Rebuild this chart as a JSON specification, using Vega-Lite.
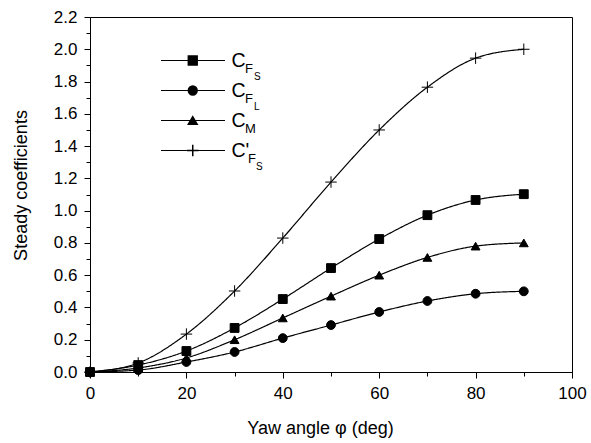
{
  "$schema": "https://vega.github.io/schema/vega-lite/v6.json",
  "width": 482,
  "height": 355,
  "autosize": {"type": "none"},
  "padding": {"left": 90, "top": 17, "right": 19, "bottom": 71},
  "background": "white",
  "config": {
    "view": {"stroke": "black", "strokeWidth": 1},
    "font": "Liberation Sans",
    "axis": {"labelFont": "Liberation Sans", "titleFont": "Liberation Sans", "grid": false, "tickColor": "black", "domainColor": "black", "labelColor": "black", "titleColor": "black", "tickWidth": 1, "domainWidth": 1, "labelFlush": false},
    "legend": {"labelFont": "Liberation Sans", "labelColor": "black"}
  },
  "data": {
    "values": [
      {"angle": 0, "value": 0, "series": "CFS", "order": 1},
      {"angle": 10, "value": 0.043, "series": "CFS", "order": 1},
      {"angle": 20, "value": 0.13, "series": "CFS", "order": 1},
      {"angle": 30, "value": 0.273, "series": "CFS", "order": 1},
      {"angle": 40, "value": 0.452, "series": "CFS", "order": 1},
      {"angle": 50, "value": 0.644, "series": "CFS", "order": 1},
      {"angle": 60, "value": 0.824, "series": "CFS", "order": 1},
      {"angle": 70, "value": 0.972, "series": "CFS", "order": 1},
      {"angle": 80, "value": 1.066, "series": "CFS", "order": 1},
      {"angle": 90, "value": 1.102, "series": "CFS", "order": 1},
      {"angle": 0, "value": 0, "series": "CFL", "order": 2},
      {"angle": 10, "value": 0.012, "series": "CFL", "order": 2},
      {"angle": 20, "value": 0.062, "series": "CFL", "order": 2},
      {"angle": 30, "value": 0.124, "series": "CFL", "order": 2},
      {"angle": 40, "value": 0.21, "series": "CFL", "order": 2},
      {"angle": 50, "value": 0.291, "series": "CFL", "order": 2},
      {"angle": 60, "value": 0.372, "series": "CFL", "order": 2},
      {"angle": 70, "value": 0.44, "series": "CFL", "order": 2},
      {"angle": 80, "value": 0.485, "series": "CFL", "order": 2},
      {"angle": 90, "value": 0.5, "series": "CFL", "order": 2},
      {"angle": 0, "value": 0, "series": "CM", "order": 3},
      {"angle": 10, "value": 0.025, "series": "CM", "order": 3},
      {"angle": 20, "value": 0.087, "series": "CM", "order": 3},
      {"angle": 30, "value": 0.2, "series": "CM", "order": 3},
      {"angle": 40, "value": 0.335, "series": "CM", "order": 3},
      {"angle": 50, "value": 0.47, "series": "CM", "order": 3},
      {"angle": 60, "value": 0.6, "series": "CM", "order": 3},
      {"angle": 70, "value": 0.71, "series": "CM", "order": 3},
      {"angle": 80, "value": 0.78, "series": "CM", "order": 3},
      {"angle": 90, "value": 0.8, "series": "CM", "order": 3},
      {"angle": 0, "value": 0, "series": "C'FS", "order": 4},
      {"angle": 10, "value": 0.056, "series": "C'FS", "order": 4},
      {"angle": 20, "value": 0.235, "series": "C'FS", "order": 4},
      {"angle": 30, "value": 0.502, "series": "C'FS", "order": 4},
      {"angle": 40, "value": 0.83, "series": "C'FS", "order": 4},
      {"angle": 50, "value": 1.177, "series": "C'FS", "order": 4},
      {"angle": 60, "value": 1.5, "series": "C'FS", "order": 4},
      {"angle": 70, "value": 1.765, "series": "C'FS", "order": 4},
      {"angle": 80, "value": 1.945, "series": "C'FS", "order": 4},
      {"angle": 90, "value": 2.0, "series": "C'FS", "order": 4}
    ]
  },
  "layer": [
    {
      "mark": {"type": "line", "interpolate": "monotone", "strokeWidth": 1.2},
      "encoding": {
        "x": {
          "field": "angle", "type": "quantitative",
          "scale": {"domain": [0, 100], "nice": false},
          "axis": {"orient": "bottom", "values": [0, 20, 40, 60, 80, 100], "tickSize": 6, "labelPadding": 7.5, "labelFontSize": 17, "labelFlush": false, "title": "Yaw angle φ (deg)", "titleFontSize": 18, "titleFontWeight": "normal", "titlePadding": 18, "titleX": 230}
        },
        "y": {
          "field": "value", "type": "quantitative",
          "scale": {"domain": [0, 2.2], "nice": false},
          "axis": {"orient": "left", "values": [0, 0.2, 0.4, 0.6, 0.8, 1.0, 1.2, 1.4, 1.6, 1.8, 2.0, 2.2], "format": ".1f", "tickSize": 6, "labelPadding": 7, "labelFontSize": 17, "labelFlush": false, "title": "Steady coefficients", "titleFontSize": 18, "titleFontWeight": "normal", "titlePadding": 23, "titleY": 168}
        },
        "color": {
          "field": "order", "type": "ordinal",
          "scale": {"range": ["black", "black", "black", "black"]},
          "legend": {
            "orient": "none", "legendX": 154, "legendY": 45, "title": null, "padding": 0, "symbolSize": 1, "symbolOpacity": 0, "symbolStrokeWidth": 0, "clipHeight": 29.5, "rowPadding": 0, "labelFontSize": 10, "labelOffset": 0,
            "labelExpr": "datum.value == 1 ? 'S' : datum.value == 2 ? 'L' : datum.value == 3 ? '' : 'S'",
            "encode": {"labels": {"update": {"dx": {"signal": "datum.value == 4 ? 2 : 0"}}}}
          }
        },
        "strokeDash": {
          "field": "series", "type": "nominal",
          "sort": ["CFS", "CFL", "CM", "C'FS"],
          "scale": {"range": [[1, 0], [1, 0], [1, 0], [1, 0]]},
          "legend": {
            "orient": "none", "legendX": 70, "legendY": 28.75, "title": null, "padding": 0, "symbolSize": 4096, "symbolStrokeColor": "black", "symbolStrokeWidth": 1.1, "symbolOpacity": 1, "clipHeight": 29.5, "rowPadding": 0, "labelFontSize": 13, "labelOffset": 19,
            "labelExpr": "datum.value === 'CM' ? 'M' : 'F'",
            "encode": {
              "symbols": {"update": {"stroke": {"value": "black"}, "strokeWidth": {"value": 1.1}, "opacity": {"value": 1}, "strokeOpacity": {"value": 1}}},
              "labels": {"update": {"dy": {"value": 8}, "dx": {"signal": "datum.value === \"C'FS\" ? 3 : 0"}}}
            }
          }
        }
      }
    },
    {
      "mark": {"type": "point", "filled": true, "size": 78, "color": "black", "stroke": "black", "strokeWidth": 1, "opacity": 1},
      "encoding": {
        "x": {
          "field": "angle", "type": "quantitative",
          "axis": {"orient": "bottom", "values": [10, 30, 50, 70, 90], "tickSize": 4, "labels": false, "domain": false, "title": null}
        },
        "y": {
          "field": "value", "type": "quantitative",
          "axis": {"orient": "left", "values": [0.1, 0.3, 0.5, 0.7, 0.9, 1.1, 1.3, 1.5, 1.7, 1.9, 2.1], "tickSize": 4, "labels": false, "domain": false, "title": null}
        },
        "shape": {
          "field": "series", "type": "nominal",
          "scale": {"domain": ["CFS", "CFL", "CM", "C'FS"], "range": ["square", "circle", "triangle-up", "M-1.3,0H1.3M0,-1.3V1.3"]},
          "legend": {
            "orient": "none", "legendX": 93, "legendY": 28.75, "title": null, "padding": 0, "symbolSize": 78, "clipHeight": 29.5, "rowPadding": 0, "labelFontSize": 19.5, "labelOffset": 29,
            "labelExpr": "datum.value === \"C'FS\" ? \"C'\" : 'C'",
            "encode": {
              "symbols": {
                "update": {
                  "fill": {"value": "black"},
                  "stroke": {"value": "black"},
                  "strokeWidth": {"value": 1},
                  "opacity": {"value": 1},
                  "fillOpacity": {"value": 1},
                  "strokeOpacity": {"value": 1}
                }
              }
            }
          }
        }
      }
    }
  ],
  "resolve": {"axis": {"x": "independent", "y": "independent"}}
}
